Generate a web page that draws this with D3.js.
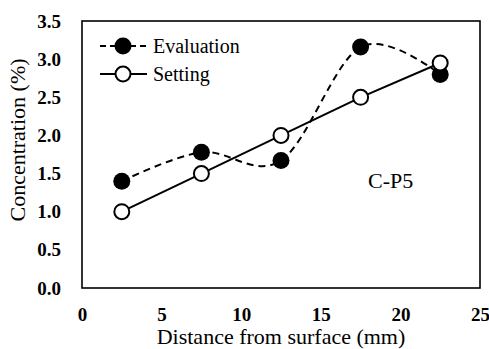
<!DOCTYPE html>
<html>
<head>
<meta charset="utf-8">
<script src="https://cdn.jsdelivr.net/npm/d3@7"></script>
<style>
  body { margin: 0; background: #fff; }
  svg { display: block; }
</style>
</head>
<body>
<svg id="chart"></svg>
<script>
var distance   = [2.5, 7.5, 12.5, 17.5, 22.5];
var evaluation = [1.4, 1.78, 1.67, 3.16, 2.8];
var setting    = [1.0, 1.5, 2.0, 2.5, 2.95];
var xTicks = [0, 5, 10, 15, 20, 25];
var yTicks = [0, 0.5, 1.0, 1.5, 2.0, 2.5, 3.0, 3.5];

var width = 489,
    height = 349;
var margin = {left: 82, right: 9, top: 21, bottom: 61};
var font = "Liberation Serif, Tinos, DejaVu Serif, serif";

var svg = d3.select("#chart")
            .attr("width", width)
            .attr("height", height);

var x = d3.scaleLinear().domain([0, 25]).range([margin.left, width - margin.right]);
var y = d3.scaleLinear().domain([0, 3.5]).range([height - margin.bottom, margin.top]);

// axes (no tick marks, just labels)
var gx = svg.append("g")
  .attr("transform", "translate(0," + (height - margin.bottom) + ")")
  .call(d3.axisBottom(x).tickValues(xTicks).tickSize(0).tickPadding(20));
var gy = svg.append("g")
  .attr("transform", "translate(" + margin.left + ",0)")
  .call(d3.axisLeft(y).tickValues(yTicks).tickFormat(d3.format(".1f")).tickSize(0).tickPadding(21));

[gx, gy].forEach(function(g) {
  g.attr("font-family", null).attr("font-size", null);
  g.select(".domain").remove();
  g.selectAll("text")
    .attr("font-family", font)
    .attr("font-size", 19)
    .attr("font-weight", "bold")
    .attr("fill", "#000");
});

// plot frame
svg.append("rect")
  .attr("x", x(0)).attr("y", y(3.5))
  .attr("width", x(25) - x(0)).attr("height", y(0) - y(3.5))
  .attr("fill", "none").attr("stroke", "#000").attr("stroke-width", 1.6);

var evalLine = d3.line()
  .x(function(d, i) { return x(distance[i]); })
  .y(function(d) { return y(d); })
  .curve(d3.curveCatmullRom.alpha(0));
var setLine = d3.line()
  .x(function(d, i) { return x(distance[i]); })
  .y(function(d) { return y(d); });

svg.append("path")
  .attr("d", evalLine(evaluation))
  .attr("fill", "none").attr("stroke", "#000")
  .attr("stroke-width", 2).attr("stroke-dasharray", "7,5");
svg.append("path")
  .attr("d", setLine(setting))
  .attr("fill", "none").attr("stroke", "#000").attr("stroke-width", 2);

svg.selectAll("circle.eval")
  .data(evaluation).enter().append("circle")
  .attr("class", "eval")
  .attr("cx", function(d, i) { return x(distance[i]); })
  .attr("cy", function(d) { return y(d); })
  .attr("r", 8.5).attr("fill", "#000");
svg.selectAll("circle.set")
  .data(setting).enter().append("circle")
  .attr("class", "set")
  .attr("cx", function(d, i) { return x(distance[i]); })
  .attr("cy", function(d) { return y(d); })
  .attr("r", 7.5).attr("fill", "#fff")
  .attr("stroke", "#000").attr("stroke-width", 2);

// legend
var lg = svg.append("g");
lg.append("line").attr("x1", 100).attr("x2", 147).attr("y1", 46).attr("y2", 46)
  .attr("stroke", "#000").attr("stroke-width", 2).attr("stroke-dasharray", "6,4");
lg.append("circle").attr("cx", 123).attr("cy", 46).attr("r", 8.5).attr("fill", "#000");
lg.append("text").attr("x", 153).attr("y", 53).text("Evaluation");
lg.append("line").attr("x1", 100).attr("x2", 147).attr("y1", 74).attr("y2", 74)
  .attr("stroke", "#000").attr("stroke-width", 2);
lg.append("circle").attr("cx", 123).attr("cy", 74).attr("r", 7.5)
  .attr("fill", "#fff").attr("stroke", "#000").attr("stroke-width", 2);
lg.append("text").attr("x", 153).attr("y", 81).text("Setting");
lg.selectAll("text")
  .attr("font-family", font).attr("font-size", 20).attr("fill", "#000");

// sample label
svg.append("text")
  .attr("x", 368).attr("y", 188)
  .attr("font-family", font).attr("font-size", 22)
  .text("C-P5");

// axis titles
svg.append("text")
  .attr("x", 281).attr("y", 344)
  .attr("text-anchor", "middle")
  .attr("font-family", font).attr("font-size", 22)
  .text("Distance from surface (mm)");
svg.append("text")
  .attr("transform", "translate(25,140) rotate(-90)")
  .attr("text-anchor", "middle")
  .attr("font-family", font).attr("font-size", 22)
  .text("Concentration (%)");
</script>
</body>
</html>
